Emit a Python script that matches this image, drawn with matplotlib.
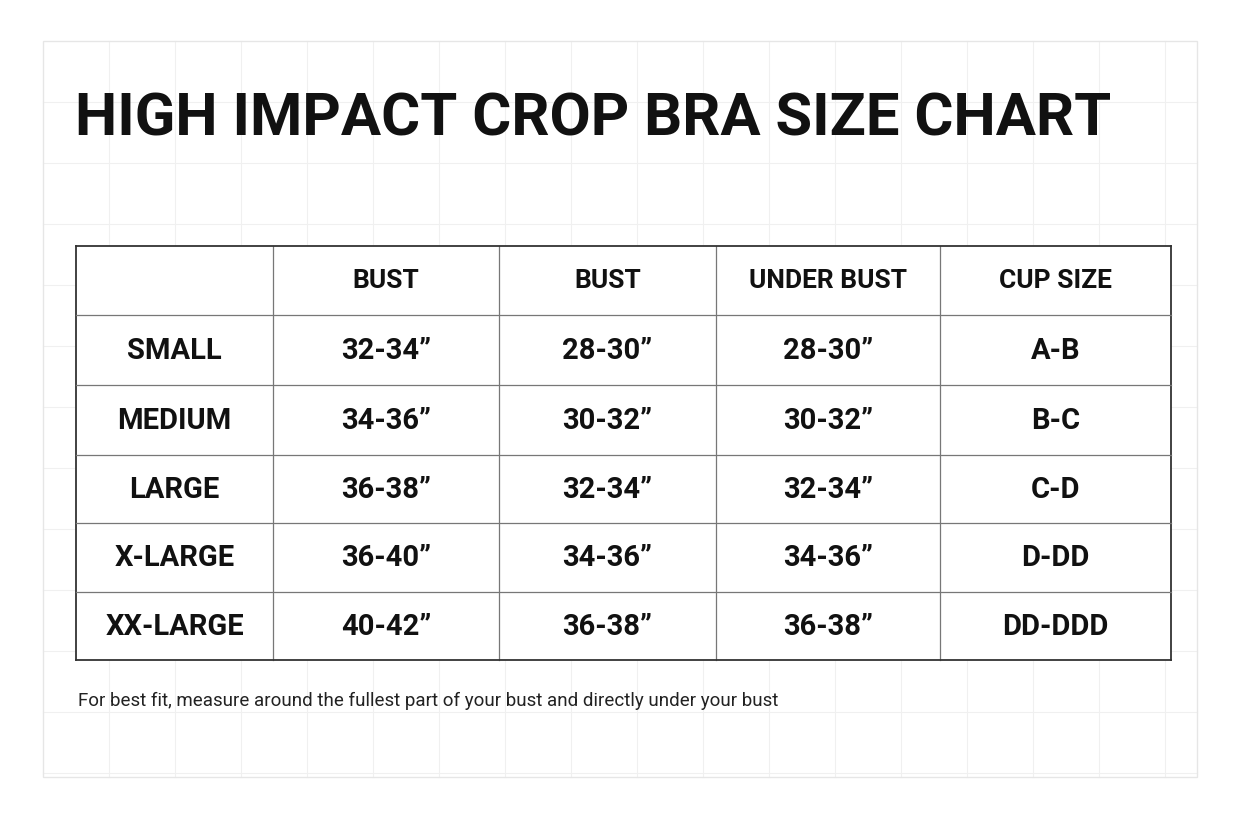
import matplotlib
matplotlib.use('Agg')
import matplotlib.pyplot as plt

title = "HIGH IMPACT CROP BRA SIZE CHART"
headers = ["", "BUST", "BUST", "UNDER BUST", "CUP SIZE"]
sizes = ["SMALL", "MEDIUM", "LARGE", "X-LARGE", "XX-LARGE"]
bust_a = ["32-34\u201d", "34-36\u201d", "36-38\u201d", "36-40\u201d", "40-42\u201d"]
bust_b = ["28-30\u201d", "30-32\u201d", "32-34\u201d", "34-36\u201d", "36-38\u201d"]
under_bust = ["28-30\u201d", "30-32\u201d", "32-34\u201d", "34-36\u201d", "36-38\u201d"]
cup = ["A-B", "B-C", "C-D", "D-DD", "DD-DDD"]
note = "For best fit, measure around the fullest part of your bust and directly under your bust"

# pixel layout
col_edges = [76, 273, 499, 716, 940, 1171]
row_edges = [246, 315, 385, 455, 523, 592, 660]

fig = plt.figure(figsize=(12.48, 8.32), dpi=100)
ax = fig.add_axes([0, 0, 1, 1])
ax.set_xlim(0, 1248)
ax.set_ylim(832, 0)
ax.axis('off')

# faint background grid panel
ax.add_patch(plt.Rectangle((43, 41), 1154, 736, fill=False, ec='#e6e6e6', lw=1))
for x in range(43 + 66, 1197, 66):
    ax.plot([x, x], [41, 777], color='#f0f0f0', lw=0.8, zorder=0)
for y in range(41 + 61, 777, 61):
    ax.plot([43, 1197], [y, y], color='#f0f0f0', lw=0.8, zorder=0)

ax.text(75, 120, title, fontsize=43, fontweight='bold', family='Roboto',
        ha='left', va='center', color='#111111')

# table
ax.add_patch(plt.Rectangle((76, 246), 1095, 414, fc='white', ec='none', zorder=1))
for x in col_edges:
    lw = 1.3 if x in (76, 1171) else 0.9
    ax.plot([x, x], [row_edges[0], row_edges[-1]], color='#333333' if lw > 1 else '#777777', lw=lw, zorder=2)
for y in row_edges:
    lw = 1.3 if y in (246, 660) else 0.9
    ax.plot([col_edges[0], col_edges[-1]], [y, y], color='#333333' if lw > 1 else '#777777', lw=lw, zorder=2)

rows = [headers] + [list(r) for r in zip(sizes, bust_a, bust_b, under_bust, cup)]
for i, row in enumerate(rows):
    yc = (row_edges[i] + row_edges[i + 1]) / 2 + 1
    for j, val in enumerate(row):
        xc = (col_edges[j] + col_edges[j + 1]) / 2
        fs = 19 if i == 0 else 21
        ax.text(xc, yc, val, fontsize=fs, fontweight='bold', family='Roboto',
                ha='center', va='center', color='#111111', zorder=3)

ax.text(78, 701, note, fontsize=13.5, family='Roboto', ha='left', va='center', color='#222222')

fig.savefig('out.png', dpi=100, facecolor='white')
